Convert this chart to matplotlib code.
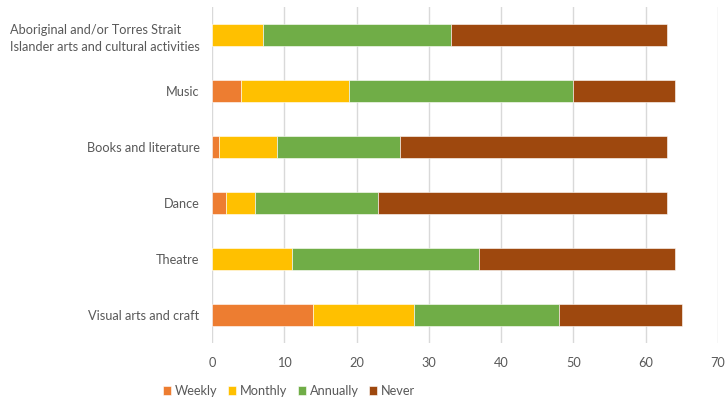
import matplotlib.pyplot as plt
import numpy as np

plt.rcParams['font.family'] = ['Lato', 'DejaVu Sans']

categories = ["Aboriginal and/or Torres Strait\nIslander arts and cultural activities",
              "Music", "Books and literature", "Dance", "Theatre", "Visual arts and craft"]
weekly = [0, 4, 1, 2, 0, 14]
monthly = [7, 15, 8, 4, 11, 14]
annually = [26, 31, 17, 17, 26, 20]
never = [30, 14, 37, 40, 27, 17]

series = [("Weekly", weekly, "#ED7D31"), ("Monthly", monthly, "#FFC000"),
          ("Annually", annually, "#70AD47"), ("Never", never, "#9E480E")]

fig = plt.figure(figsize=(7.28, 4.0), dpi=100)
ax = fig.add_axes([0.2912, 0.1425, 0.6951, 0.84])

y = np.arange(len(categories))
left = np.zeros(len(categories))
for name, vals, col in series:
    ax.barh(y, vals, left=left, height=0.4, color=col, label=name,
            edgecolor='white', linewidth=0.4, zorder=3)
    left += np.array(vals)

ax.set_xlim(0, 70)
ax.set_ylim(-0.5, len(categories) - 0.5)
ax.invert_yaxis()
ax.set_xticks(range(0, 71, 10))
ax.set_yticks(y)
ax.set_yticklabels(categories)
for lab in ax.get_yticklabels():
    lab.set_multialignment('left')
    lab.set_linespacing(1.5)

ax.grid(axis='x', color='#D9D9D9', linewidth=1, zorder=0)
for s in ['top', 'right', 'bottom', 'left']:
    ax.spines[s].set_visible(False)
ax.tick_params(axis='both', length=0, labelsize=9.2, colors='#595959')
ax.tick_params(axis='y', pad=9)
ax.tick_params(axis='x', pad=10)

fig.legend(loc='center', bbox_to_anchor=(0.397, 1 - 391 / 400),
           ncol=4, frameon=False, fontsize=9.2, handlelength=0.65, handleheight=0.65,
           handletextpad=0.3, columnspacing=0.8, labelcolor='#595959')

fig.savefig("out.png", dpi=100)
